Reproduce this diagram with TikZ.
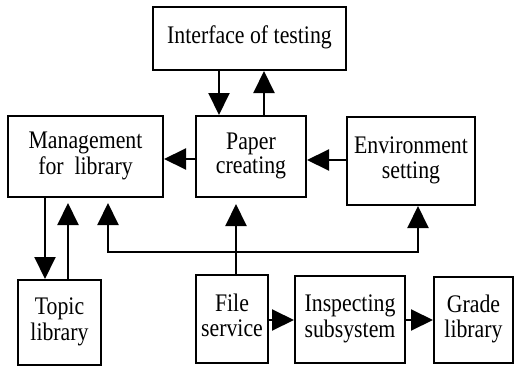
\documentclass[tikz,border=0pt]{standalone}
\usepackage{fontspec}
\setmainfont{Liberation Serif}
\usepackage{graphicx}
\usetikzlibrary{arrows.meta}
% labels: centred lines, slightly stretched vertically
\newcommand{\lbl}[1]{\scalebox{1}[1.16]{\begin{tabular}{@{}c@{}}#1\end{tabular}}}

\begin{document}
\begin{tikzpicture}[x=1pt,y=-1pt,
  box/.style={draw, line width=2pt, rectangle, inner sep=0pt,
    font=\fontsize{21.8}{21.5}\selectfont},
  head/.tip={Triangle[length=22pt,width=21pt]},
  link/.style={line width=2pt, line join=miter, -head},
  ]
\useasboundingbox (0,0) rectangle (515,367);

% modules
\node[box, minimum width=193pt, minimum height=63pt] (iface) at (249.5,38.5) {\lbl{Interface of testing}};
\node[box, minimum width=155pt, minimum height=81pt] (mgmt)  at (85.5,156.5) {\lbl{Management\\for\ \ library}};
\node[box, minimum width=110pt, minimum height=81pt] (paper) at (251,156.5)  {\lbl{Paper\\creating}};
\node[box, minimum width=128pt, minimum height=88pt] (env)   at (411,161)    {\lbl{Environment\\setting}};
\node[box, minimum width=83pt,  minimum height=85pt] (topic) at (59.5,322.5) {\lbl{Topic\\library}};
\node[box, minimum width=72pt,  minimum height=88pt] (file)  at (232,319)    {\lbl{File\\service}};
\node[box, minimum width=110pt, minimum height=87pt] (insp)  at (350,319.5)  {\lbl{Inspecting\\subsystem}};
\node[box, minimum width=79pt,  minimum height=86pt] (grade) at (473.5,320)  {\lbl{Grade\\library}};

% connector guide positions
\coordinate (xdown) at (219,0);
\coordinate (xup)   at (264,0);
\coordinate (ymid)  at (0,159);
\coordinate (yenv)  at (0,160);
\coordinate (xtd)   at (45,0);
\coordinate (xtu)   at (68,0);
\coordinate (xfile) at (236,0);
\coordinate (busL)  at (108,252);
\coordinate (busR)  at (418,252);
\coordinate (ylow)  at (0,320);

% connectors
\draw[link] (iface.south -| xdown) -- (paper.north -| xdown);
\draw[link] (paper.north -| xup) -- (iface.south -| xup);
\draw[link] (paper.west |- ymid) -- (mgmt.east |- ymid);
\draw[link] (env.west |- yenv) -- (paper.east |- yenv);
\draw[link] (mgmt.south -| xtd) -- (topic.north -| xtd);
\draw[link, shorten >=5pt] (topic.north -| xtu) -- (mgmt.south -| xtu);
\draw[link, shorten >=6pt] (file.north -| xfile) -- (paper.south -| xfile);
\draw[line width=2pt, line join=miter, head-head, shorten <=5pt]
  (mgmt.south -| busL) -- (busL) -- (busR) -- (env.south -| busR);
\draw[link] (file.east |- ylow) -- (insp.west |- ylow);
\draw[link] (insp.east |- ylow) -- (grade.west |- ylow);
\end{tikzpicture}
\end{document}
